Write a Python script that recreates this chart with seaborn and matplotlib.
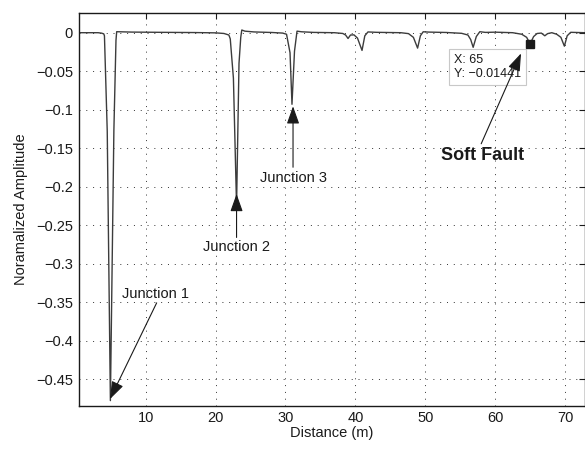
import matplotlib
matplotlib.use("Agg")
import matplotlib.pyplot as plt
from matplotlib.ticker import FuncFormatter, MultipleLocator
import seaborn as sns

# reflectogram (distance in m, normalized amplitude)
distance = [0.46, 2.0, 3.2, 3.7, 4.0, 4.1, 4.5, 4.95, 5.45, 5.75, 5.85, 6.3, 8.0, 12.0,
            17.0, 20.0, 21.2, 21.9, 22.1, 22.55, 23.0, 23.35, 23.6, 23.75, 24.2, 25.5,
            28.0, 29.6, 30.15, 30.65, 30.93, 31.29, 31.65, 32.3, 34.0, 37.0, 38.2, 38.6,
            38.95, 39.3, 39.8, 40.3, 40.95, 41.35, 41.8, 43.0, 46.5, 47.6, 48.3, 48.9,
            49.3, 49.7, 50.5, 53.0, 55.2, 56.1, 56.5, 56.85, 57.3, 57.8, 58.6, 60.0,
            62.5, 63.8, 64.5, 65.0, 65.5, 66.0, 66.6, 67.1, 67.5, 68.1, 68.8, 69.4,
            69.9, 70.3, 70.8, 72.85]
amplitude = [0.0, 0.0, 0.0, -0.0006, -0.0015, -0.004, -0.128, -0.478, -0.127, -0.01,
             0.0013, 0.0012, 0.0008, 0.0005, 0.0002, -0.0002, -0.001, -0.003, -0.008,
             -0.059, -0.225, -0.04, -0.006, 0.0035, 0.002, 0.001, 0.0003, -0.0005,
             -0.002, -0.026, -0.093, -0.024, 0.002, 0.0012, 0.0004, 0.0, -0.001, -0.003,
             -0.0075, -0.003, -0.0028, -0.007, -0.023, -0.004, 0.001, 0.0005, 0.0,
             -0.0012, -0.006, -0.020, -0.004, 0.0012, 0.0008, 0.0003, -0.0008, -0.003,
             -0.009, -0.019, -0.005, 0.0013, 0.0004, 0.0007, 0.0, -0.002, -0.006,
             -0.01441, -0.005, -0.001, -0.0005, -0.004, -0.0012, 0.0, -0.002, -0.006,
             -0.0175, -0.004, 0.0005, 0.0]

tip_x, tip_y = 65, -0.01441

# annotations: (label, text x, text y, arrow tail, arrow tip)
notes = [
    ("Junction 1", 11.43, -0.3395, (11.57, -0.351), (4.89, -0.476)),
    ("Junction 2", 23.02, -0.278, (23.0, -0.266), (23.0, -0.2095)),
    ("Junction 3", 31.17, -0.1892, (31.08, -0.1748), (31.08, -0.0956)),
]
fault_note = ("Soft Fault", 58.18, -0.1589, (58.0, -0.1443), (63.7, -0.0269))

sns.set_theme(style="white")
plt.rcParams['font.family'] = ['Liberation Sans', 'DejaVu Sans']

fig = plt.figure(figsize=(5.85, 4.5), dpi=100)
ax = fig.add_axes([79 / 585, 44 / 450, 506 / 585, 393 / 450])

sns.lineplot(x=distance, y=amplitude, ax=ax, color='#3c3c3c', lw=1.0,
             estimator=None, sort=False)
ax.plot([tip_x], [tip_y], marker='s', ms=6.3, color='k', ls='none', zorder=5)

ax.set_xlim(0.46, 72.85)
ax.set_ylim(-0.485, 0.0256)
ax.xaxis.set_major_locator(MultipleLocator(10))
ax.yaxis.set_major_locator(MultipleLocator(0.05))
ax.yaxis.set_major_formatter(FuncFormatter(lambda v, p: ('%g' % round(v, 4)).replace('-', '\u2212')))

ax.grid(True, color='#333333', linestyle=(0, (1, 6)), linewidth=0.7)
for s in ax.spines.values():
    s.set_color('k')
    s.set_linewidth(1.0)
ax.tick_params(direction='in', length=4, width=0.8, color='k', labelsize=10.5,
               top=True, right=True, labelcolor='k')
ax.tick_params(axis='y', pad=4.3)
ax.tick_params(axis='x', pad=3.5)

ax.set_xlabel('Distance (m)', fontsize=10.5, color='k', labelpad=1)
ax.set_ylabel('Noramalized Amplitude', fontsize=10.5, color='k', labelpad=6)

# data tip box (drawn under the arrows)
ax.annotate('X: 65\nY: \u22120.01441', xy=(tip_x, tip_y), xytext=(-76, -10),
            textcoords='offset pixels', ha='left', va='top', fontsize=9,
            linespacing=1.3, color='k', zorder=4,
            bbox=dict(boxstyle='square,pad=0.4', fc='white', ec='#c8c8c8', lw=0.8))

arrow = dict(arrowstyle='-|>,head_length=0.9,head_width=0.32', color='k', lw=0.8,
             shrinkA=0, shrinkB=0)
for label, tx, ty, tail, tip in notes:
    ax.annotate('', xy=tip, xytext=tail, arrowprops=arrow, zorder=6)
    ax.text(tx, ty, label, fontsize=10.5, ha='center', va='center', color='k')

label, tx, ty, tail, tip = fault_note
ax.annotate('', xy=tip, xytext=tail, arrowprops=arrow, zorder=6)
ax.text(tx, ty, label, fontsize=13, fontweight='bold', ha='center', va='center', color='k')

fig.savefig('out.png', dpi=100)
